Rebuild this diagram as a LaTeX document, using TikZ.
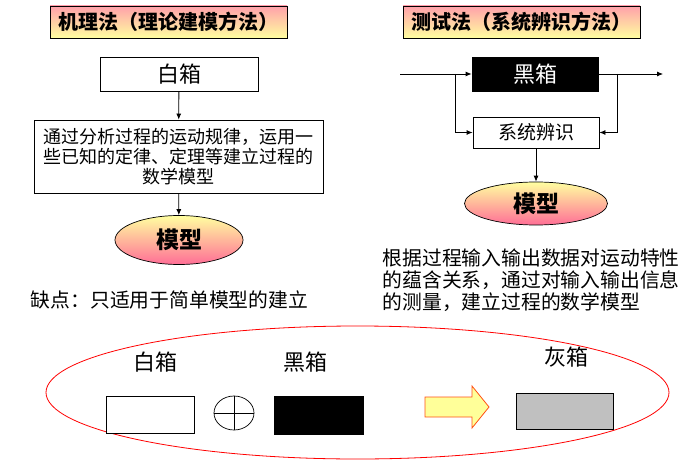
\documentclass[tikz,border=0pt]{standalone}
\usepackage{fontspec}
\setmainfont{Noto Sans CJK SC}
\usetikzlibrary{arrows.meta, positioning, shapes.geometric, calc}
\usepackage{xcolor}
\definecolor{titlepink}{RGB}{255, 160, 170}
\definecolor{titleyellow}{RGB}{255, 255, 160}
\definecolor{modelpink}{RGB}{255, 110, 150}
\definecolor{arrowyellow}{RGB}{255, 255, 153}
\definecolor{arroworange}{RGB}{255, 80, 20}
\definecolor{boxgray}{RGB}{192, 192, 192}

\tikzset{
  titlebox/.style={draw, line width=0.9pt, top color=titlepink, bottom color=titleyellow,
    minimum width=237pt, minimum height=32pt, font=\fontsize{20}{22}\selectfont\bfseries},
  plainbox/.style={draw, line width=0.8pt, fill=white, inner sep=0pt},
  modelnode/.style={ellipse, draw, line width=0.7pt, top color=titleyellow,
    middle color=titleyellow!75!modelpink, bottom color=modelpink,
    inner sep=0pt, font=\fontsize{23}{25}\selectfont\bfseries},
  flow/.style={-{Latex[length=6pt, width=5pt]}, line width=0.8pt},
}

\begin{document}
\begin{tikzpicture}[x=1pt, y=-1pt]
\useasboundingbox (0,0) rectangle (692,465);

% left: mechanism modelling
\node[titlebox] (titleL) at (168.5,22) {机理法（理论建模方法）};
\node[plainbox, minimum width=158pt, minimum height=34pt, font=\fontsize{22}{24}\selectfont] (whitebox) at (179,74) {白箱};
\node[plainbox, minimum width=289pt, minimum height=73pt, align=center, font=\fontsize{18}{20}\selectfont] (analysis) at (178.5,156.5)
  {通过分析过程的运动规律，运用一\\些已知的定律、定理等建立过程的\\数学模型};
\node[modelnode, minimum width=128pt, minimum height=49pt] (modelL) at (179,240) {模型};
\node[font=\fontsize{19.8}{22}\selectfont] (drawback) at (169.5,300) {缺点：只适用于简单模型的建立};
\draw[flow] (whitebox) -- (analysis);
\draw[flow] (analysis) -- (modelL);

% right: system identification
\node[titlebox] (titleR) at (521.5,22) {测试法（系统辨识方法）};
\node[plainbox, fill=black, text=white, minimum width=126pt, minimum height=34pt, font=\fontsize{22}{24}\selectfont] (blackbox) at (535,74) {黑箱};
\node[plainbox, minimum width=126pt, minimum height=31pt, font=\fontsize{19}{21}\selectfont] (sysid) at (536,132.5) {系统辨识};
\node[modelnode, minimum width=143pt, minimum height=43pt] (modelR) at (536,203.5) {模型};
\node[anchor=west, inner sep=0pt, align=left, font=\fontsize{19.8}{22}\selectfont] (method) at (382.5,280)
  {根据过程输入输出数据对运动特性\\的蕴含关系，通过对输入输出信息\\的测量，建立过程的数学模型};
\coordinate (in) at (400,74);
\coordinate (out) at (663,74);
\coordinate (split) at (455,74);
\coordinate (merge) at (617,74);
\draw[flow] (in) -- (blackbox);
\draw[flow] (blackbox) -- (out);
\draw[flow] (split) |- (sysid);
\draw[flow] (merge) |- (sysid);
\draw[flow] (sysid) -- (modelR);

% bottom: white + black = gray
\node[ellipse, draw=red, line width=0.8pt, minimum width=623pt, minimum height=133pt] (legend) at (357.5,392.5) {};
\node[font=\fontsize{22}{24}\selectfont] (whitelabel) at (155,362) {白箱};
\node[font=\fontsize{22}{24}\selectfont] (blacklabel) at (305,362) {黑箱};
\node[font=\fontsize{22}{24}\selectfont] (graylabel) at (566,357) {灰箱};
\node[plainbox, minimum width=88pt, minimum height=37pt] (whiterect) at (150,414.5) {};
\node[ellipse, draw, line width=0.7pt, minimum width=40pt, minimum height=34pt, inner sep=0pt] (plus) at (234,413) {};
\draw[line width=0.7pt] (plus.north) -- (plus.south) (plus.west) -- (plus.east);
\node[plainbox, fill=black, minimum width=89pt, minimum height=38pt] (blackrect) at (318.5,415) {};
\draw[draw=arroworange, fill=arrowyellow, line width=0.8pt]
  (425,397) -- (472,397) -- (472,386) -- (489,407) -- (472,428) -- (472,417) -- (425,417) -- cycle;
\node[plainbox, fill=boxgray, minimum width=97pt, minimum height=36pt] (grayrect) at (564.5,411) {};
\end{tikzpicture}
\end{document}
